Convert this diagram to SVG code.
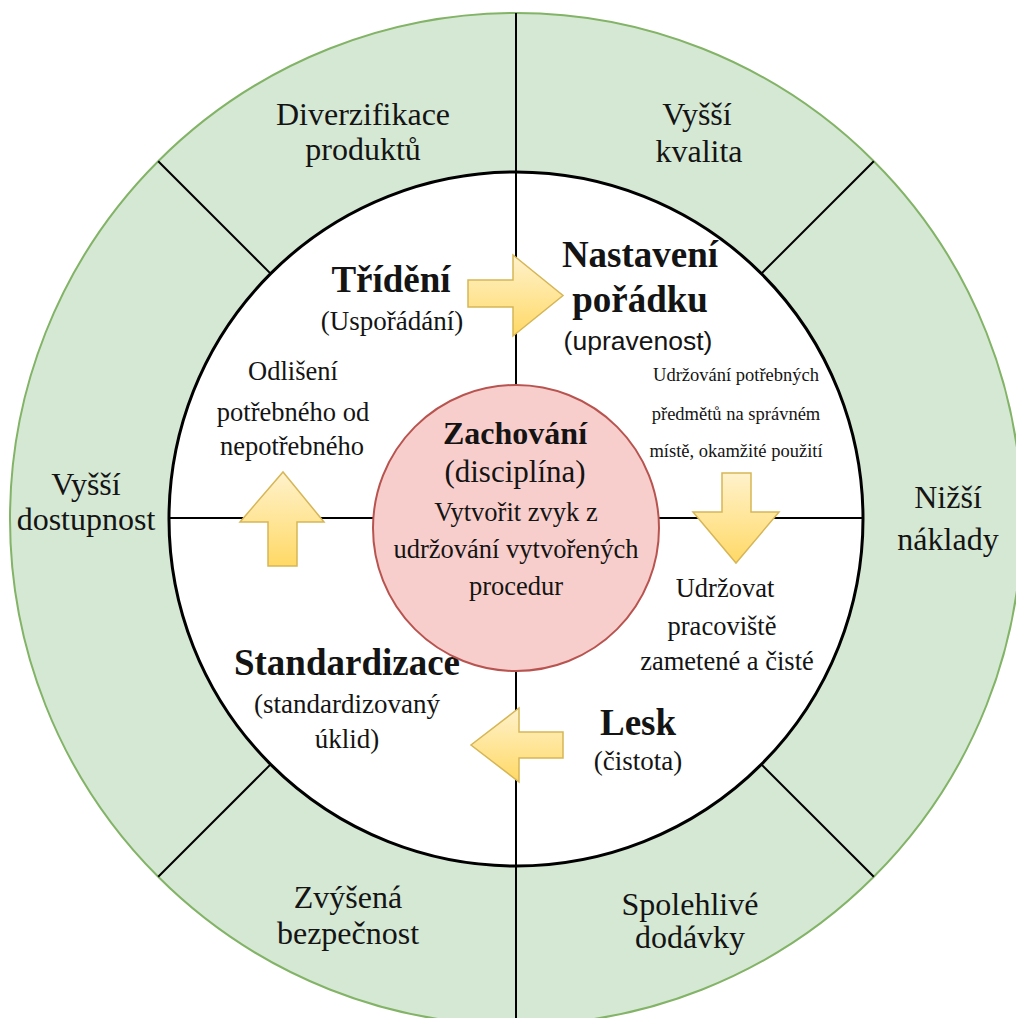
<svg xmlns="http://www.w3.org/2000/svg" width="1016" height="1018" viewBox="0 0 1016 1018">
  <defs>
    <linearGradient id="arrowFill" x1="0" y1="0" x2="0" y2="1">
      <stop offset="0" stop-color="#fff2cc"/>
      <stop offset="1" stop-color="#ffd966"/>
    </linearGradient>
    <style>
      .sector { fill: #d5e8d4; stroke: none; }
      .rim { fill: none; stroke: #82b366; stroke-width: 2; }
      .core { fill: #ffffff; stroke: #000000; stroke-width: 3; }
      .div { stroke: #000000; stroke-width: 2; fill: none; }
      .hub { fill: #f8cecc; stroke: #b85450; stroke-width: 2; }
      .arrow { fill: url(#arrowFill); stroke: #d6b656; stroke-width: 1.5; stroke-linejoin: miter; }
      .outer { font-size: 32px; }
      .head { font-size: 37px; font-weight: bold; }
      .sub { font-size: 27px; }
      .body { font-size: 26.5px; }
      .small { font-size: 18.5px; }
      .sans { font-size: 26.5px; }
    </style>
  </defs>

  <rect width="1016" height="1018" fill="#ffffff"/>

  <g font-family="Liberation Serif, serif" fill="#141414" text-anchor="middle">
  <!-- outer ring: six benefit sectors -->
  <g id="benefit-diversification">
    <path class="sector" d="M158.2 161.2 A506 506 0 0 1 516 13 L516 172 A347 347 0 0 0 270.6 273.6 Z"/>
    <text class="outer" x="363" y="125">Diverzifikace</text>
    <text class="outer" x="363" y="160">produktů</text>
  </g>
  <g id="benefit-quality">
    <path class="sector" d="M516 13 A506 506 0 0 1 873.8 161.2 L761.4 273.6 A347 347 0 0 0 516 172 Z"/>
    <text class="outer" x="697" y="125">Vyšší</text>
    <text class="outer" x="699" y="162">kvalita</text>
  </g>
  <g id="benefit-costs">
    <path class="sector" d="M873.8 161.2 A506 506 0 0 1 873.8 876.8 L761.4 764.4 A347 347 0 0 0 761.4 273.6 Z"/>
    <text class="outer" x="948" y="508">Nižší</text>
    <text class="outer" x="948" y="550">náklady</text>
  </g>
  <g id="benefit-deliveries">
    <path class="sector" d="M873.8 876.8 A506 506 0 0 1 516 1025 L516 866 A347 347 0 0 0 761.4 764.4 Z"/>
    <text class="outer" x="690" y="915">Spolehlivé</text>
    <text class="outer" x="690" y="948">dodávky</text>
  </g>
  <g id="benefit-safety">
    <path class="sector" d="M516 1025 A506 506 0 0 1 158.2 876.8 L270.6 764.4 A347 347 0 0 0 516 866 Z"/>
    <text class="outer" x="348" y="908">Zvýšená</text>
    <text class="outer" x="348" y="944">bezpečnost</text>
  </g>
  <g id="benefit-availability">
    <path class="sector" d="M158.2 876.8 A506 506 0 0 1 158.2 161.2 L270.6 273.6 A347 347 0 0 0 270.6 764.4 Z"/>
    <text class="outer" x="86" y="495">Vyšší</text>
    <text class="outer" x="86" y="530">dostupnost</text>
  </g>

  <!-- ring outlines and dividers -->
  <g id="frame">
    <circle class="rim" cx="516" cy="519" r="506"/>
    <circle class="core" cx="516" cy="519" r="347"/>
    <line class="div" x1="516" y1="13" x2="516" y2="1025"/>
    <line class="div" x1="169" y1="518" x2="863" y2="518"/>
    <line class="div" x1="158.2" y1="161.2" x2="270.6" y2="273.6"/>
    <line class="div" x1="873.8" y1="161.2" x2="761.4" y2="273.6"/>
    <line class="div" x1="873.8" y1="876.8" x2="761.4" y2="764.4"/>
    <line class="div" x1="158.2" y1="876.8" x2="270.6" y2="764.4"/>
  </g>

  <!-- inner quadrants: the 5S steps -->
  <g id="step-sort">
    <text class="head" x="391" y="292">Třídění</text>
    <text class="sub" x="392" y="330" font-size="28">(Uspořádání)</text>
    <text class="body" x="293" y="380">Odlišení</text>
    <text class="body" x="293" y="421">potřebného od</text>
    <text class="body" x="292" y="455">nepotřebného</text>
  </g>
  <g id="step-set-in-order">
    <text class="head" x="640" y="267">Nastavení</text>
    <text class="head" x="640" y="312">pořádku</text>
    <text class="sans" x="638" y="350" font-family="Liberation Sans, sans-serif">(upravenost)</text>
    <text class="small" x="736" y="381">Udržování potřebných</text>
    <text class="small" x="736" y="420">předmětů na správném</text>
    <text class="small" x="736" y="457">místě, okamžité použití</text>
  </g>
  <g id="step-shine">
    <text class="body" x="725" y="597">Udržovat</text>
    <text class="body" x="722" y="635">pracoviště</text>
    <text class="body" x="727" y="670">zametené a čisté</text>
    <text class="head" x="638" y="735">Lesk</text>
    <text class="sub" x="638" y="770">(čistota)</text>
  </g>
  <g id="step-standardize">
    <text class="head" x="347" y="675">Standardizace</text>
    <text class="sub" x="347" y="713">(standardizovaný</text>
    <text class="sub" x="347" y="748">úklid)</text>
  </g>

  <!-- centre: sustain -->
  <g id="step-sustain">
    <circle class="hub" cx="516" cy="528" r="143"/>
    <text class="head" x="515" y="444" style="font-size:32px">Zachování</text>
    <text class="sub" x="515" y="482" style="font-size:31px">(disciplína)</text>
    <text class="body" x="516" y="521">Vytvořit zvyk z</text>
    <text class="body" x="516" y="558">udržování vytvořených</text>
    <text class="body" x="516" y="595">procedur</text>
  </g>

  <!-- cycle arrows between the steps -->
  <g id="connectors">
    <polygon class="arrow" points="468,280 513,280 513,255 563,295.5 513,336 513,307 468,307"/>
    <polygon class="arrow" points="722,473 751,473 751,512 779,512 736,563 693,512 722,512"/>
    <polygon class="arrow" points="563,732 519,732 519,708 471,745 519,782 519,758 563,758"/>
    <polygon class="arrow" points="268,566 268,522 240,522 283,472 324,522 297,522 297,566"/>
  </g>
  </g>
</svg>
